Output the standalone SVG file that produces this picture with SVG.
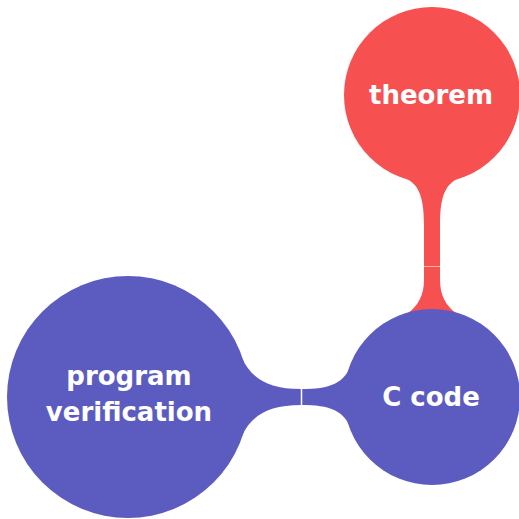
<svg xmlns="http://www.w3.org/2000/svg" width="519" height="519" viewBox="0 0 519 519">
  <style>
    .red { fill: #f65050; }
    .blue { fill: #5c5cc0; }
    .label { fill: #ffffff; font-family: "DejaVu Sans", sans-serif; font-weight: bold; font-size: 26px; text-anchor: middle; }
    .seam { stroke: #ffffff; fill: none; }
  </style>
  <rect width="519" height="519" fill="#ffffff"/>
  <g id="connectors">
    <!-- theorem to C code: upper half in red -->
    <path class="red" d="M 405,178 C 418,184 424,195 424,225 L 424,266 L 440,266 L 440,225 C 440,195 446,184 459,178 L 432,150 Z"/>
    <!-- lower half -->
    <path class="red" d="M 424,266 L 424,280 C 424,295 418,306 408,313 L 432,330 L 456,313 C 446,306 440,295 440,280 L 440,266 Z"/>
    <line class="seam" x1="424" y1="266.5" x2="440" y2="266.5" stroke-width="1" stroke-opacity="0.55"/>
    <!-- program verification to C code -->
    <path class="blue" d="M 225,358 L 242,358 C 251,378 268,389 301,389 L 301,405 C 268,405 251,416 242,436 L 225,436 Z"/>
    <path class="blue" d="M 301,389 C 330,389 345,384 352,362 L 375,362 L 375,432 L 352,432 C 345,410 330,405 301,405 Z"/>
    <line class="seam" x1="301.5" y1="389" x2="301.5" y2="405" stroke-width="1.5"/>
  </g>
  <g id="theorem">
    <circle class="red" cx="432" cy="95" r="88"/>
    <text class="label" x="431" y="104">theorem</text>
  </g>
  <g id="c-code">
    <circle class="blue" cx="432" cy="397" r="88"/>
    <text class="label" x="431" y="406">C code</text>
  </g>
  <g id="program-verification">
    <circle class="blue" cx="128" cy="397" r="121"/>
    <text class="label" x="129" y="385">program</text>
    <text class="label" x="129" y="421">verification</text>
  </g>
</svg>
